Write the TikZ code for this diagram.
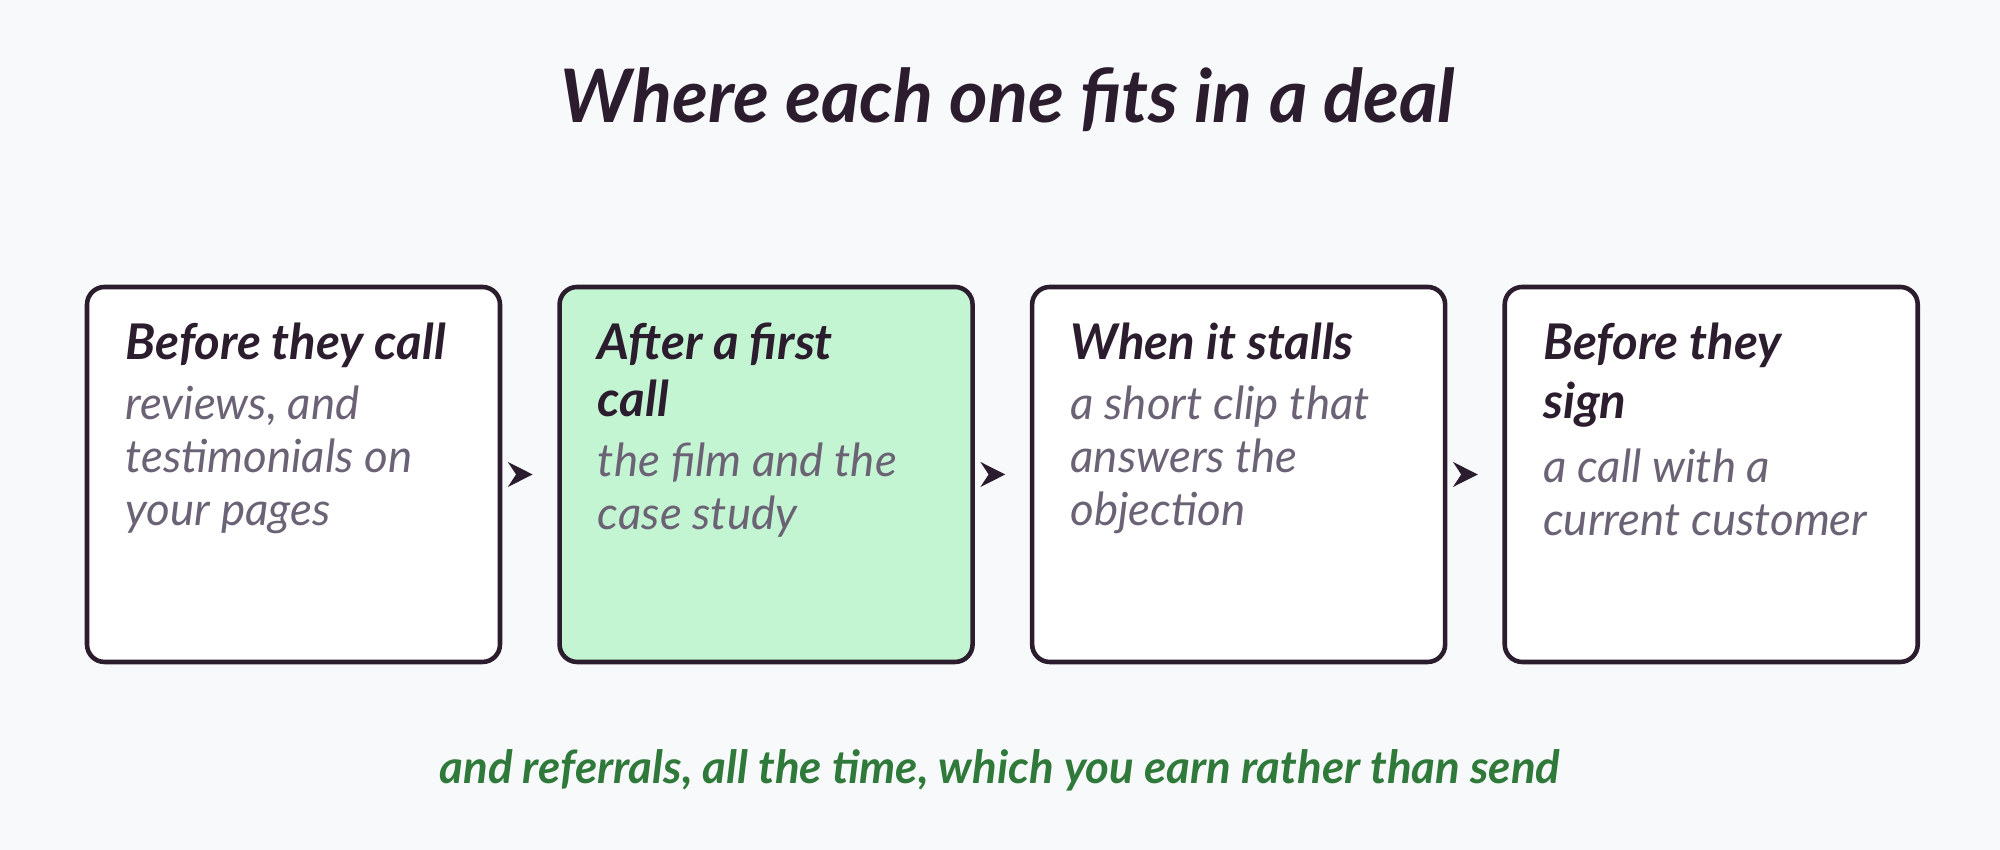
\documentclass[tikz,border=0pt]{standalone}
\usepackage{fontspec}
\setmainfont{Lato}
\usetikzlibrary{positioning,arrows.meta}
\definecolor{ink}{HTML}{2B1D2E}
\definecolor{muted}{HTML}{6B6375}
\definecolor{mint}{HTML}{C3F5D2}
\definecolor{leaf}{HTML}{2F7A3A}
\definecolor{paper}{HTML}{F8F9FB}
\tikzset{
  stage/.style={draw=ink, line width=1.3pt, rounded corners=5pt, fill=white,
    minimum width=4.13cm, minimum height=3.75cm, inner sep=0pt},
  words/.style={anchor=north west, align=left, inner sep=0pt},
  flow/.style={-{Stealth[length=7pt,width=7pt]}, ink, line width=1.6pt, shorten <=7pt, shorten >=7pt}
}
\newcommand{\head}{\fontsize{14}{19}\selectfont\bfseries\itshape\color{ink}}
\newcommand{\body}{\fontsize{13}{17}\selectfont\itshape\color{muted}}
\begin{document}
\begin{tikzpicture}
  \fill[paper] (0,0) rectangle (20,8.5);
  \useasboundingbox (0,0) rectangle (20,8.5);

  \node[font=\fontsize{21}{24}\selectfont\bfseries\itshape, text=ink] (title) at (10.08,7.5) {Where each one fits in a deal};

  % the four stages
  \node[stage] (call) at (2.935,3.755) {};
  \node[stage, fill=mint, right=0.55cm of call] (first) {};
  \node[stage, right=0.55cm of first] (stall) {};
  \node[stage, right=0.55cm of stall] (sign) {};

  \node[words] (callt) at ([xshift=0.4cm,yshift=-0.38cm]call.north west)
    {\head Before they call\\[5pt]\body reviews, and\\[3pt]\body testimonials on\\[3pt]\body your pages};
  \node[words] (firstt) at ([xshift=0.4cm,yshift=-0.38cm]first.north west)
    {\head After a first\\[3pt]\head call\\[5pt]\body the film and the\\[3pt]\body case study};
  \node[words] (stallt) at ([xshift=0.4cm,yshift=-0.38cm]stall.north west)
    {\head When it stalls\\[5pt]\body a short clip that\\[3pt]\body answers the\\[3pt]\body objection};
  \node[words] (signt) at ([xshift=0.4cm,yshift=-0.38cm]sign.north west)
    {\head Before they\\[3pt]\head sign\\[5pt]\body a call with a\\[3pt]\body current customer};

  \draw[flow] (call) -- (first);
  \draw[flow] (first) -- (stall);
  \draw[flow] (stall) -- (sign);

  \node[font=\fontsize{13}{15}\selectfont\bfseries\itshape, text=leaf] (note) at (10.0,0.8)
    {and referrals, all the time, which you earn rather than send};
\end{tikzpicture}
\end{document}
